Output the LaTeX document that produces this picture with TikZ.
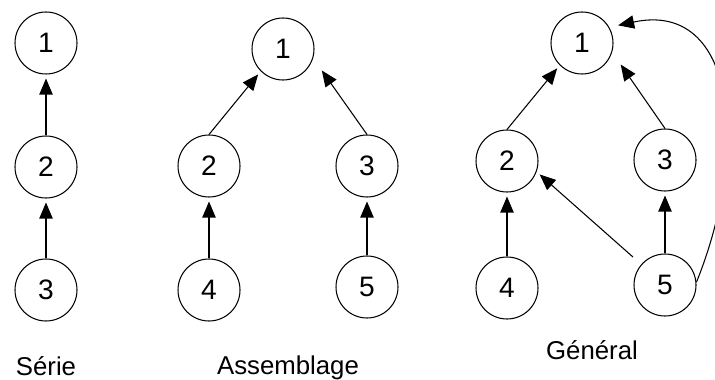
\documentclass[tikz,border=0pt]{standalone}
\usepackage{fontspec}
\setmainfont{Liberation Sans}
\usetikzlibrary{arrows.meta}
\begin{document}
\begin{tikzpicture}
        % Define styles for nodes and arrows
        \tikzset{
            bloc/.style={draw, circle, minimum size=1.86cm, inner sep=0pt, line width=0.9pt, font=\fontsize{24}{28}\selectfont},
            fleche/.style={-{Triangle[length=0.48cm, width=0.4cm]}, line width=0.9pt, shorten >=0.12cm},
            titre/.style={anchor=base, font=\fontsize{22}{26}\selectfont}
        }
        \useasboundingbox (0, 0) rectangle (21.45, 11.37);
        % Serie
        \node[bloc] (s1) at (1.38, 10.08) {1};
        \node[bloc] (s2) at (1.38, 6.36) {2};
        \node[bloc] (s3) at (1.38, 2.67) {3};
        \node[titre] (ts) at (1.38, 0.12) {Série};
        % Assemblage
        \node[bloc] (a1) at (8.49, 9.90) {1};
        \node[bloc] (a2) at (6.27, 6.39) {2};
        \node[bloc] (a3) at (11.01, 6.39) {3};
        \node[bloc] (a4) at (6.27, 2.67) {4};
        \node[bloc] (a5) at (11.01, 2.76) {5};
        \node[titre] (ta) at (8.64, 0.15) {Assemblage};
        % General
        \node[bloc] (g1) at (17.46, 10.08) {1};
        \node[bloc] (g2) at (15.21, 6.54) {2};
        \node[bloc] (g3) at (19.95, 6.57) {3};
        \node[bloc] (g4) at (15.21, 2.73) {4};
        \node[bloc] (g5) at (19.95, 2.82) {5};
        \node[titre] (tg) at (17.76, 0.60) {Général};
        % Draw arrows
        \draw[fleche] (s2.north) -- (s1.south);
        \draw[fleche] (s3.north) -- (s2.south);
        \draw[fleche] (a2.north) -- (a1.225);
        \draw[fleche, shorten >=0.45cm] (a3.north) -- (a1.343);
        \draw[fleche] (a4.north) -- (a2.south);
        \draw[fleche] (a5.north) -- (a3.south);
        \draw[fleche] (g2.north) -- (g1.225);
        \draw[fleche, shorten >=0.45cm] (g3.north) -- (g1.343);
        \draw[fleche] (g4.north) -- (g2.south);
        \draw[fleche] (g5.north) -- (g3.south);
        \draw[fleche, shorten <=0.33cm, shorten >=0.12cm] (g5.139) -- (g2.340);
        \draw[fleche, shorten >=0.27cm] (g5.5) .. controls (22.5, 6.87) and (22.1, 11.37) .. (g1.30);
\end{tikzpicture}
\end{document}
